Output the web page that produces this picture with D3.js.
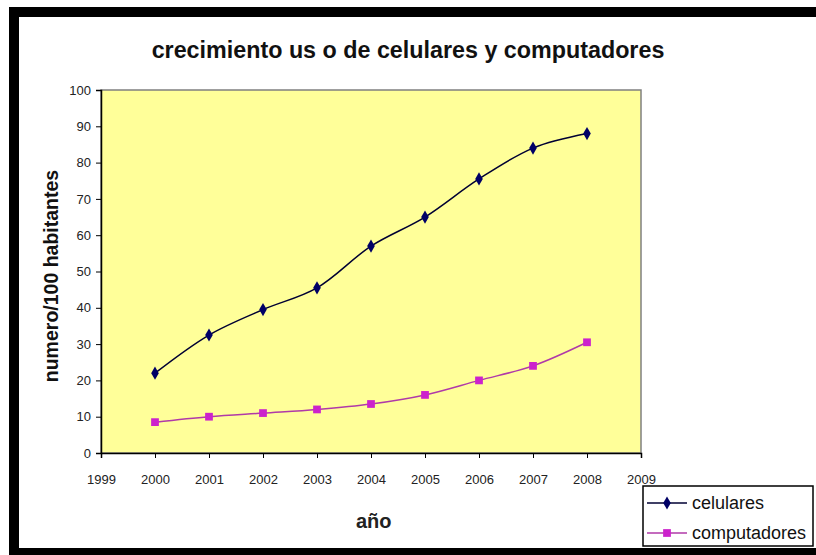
<!DOCTYPE html>
<html>
<head>
<meta charset="utf-8">
<script src="https://cdn.jsdelivr.net/npm/d3@7"></script>
<style>
  html, body { margin: 0; background: #fff; overflow: hidden; }
  svg { display: block; }
  text { font-family: Arial, "Liberation Sans", sans-serif; }
</style>
</head>
<body>
<div id="chart-area"></div>
<script>
// data
var years = [2000, 2001, 2002, 2003, 2004, 2005, 2006, 2007, 2008];
var celulares = [22, 32.5, 39.5, 45.5, 57, 65, 75.5, 84, 88];
var computadores = [8.5, 10, 11, 12, 13.5, 16, 20, 24, 30.5];
var xTicks = [1999, 2000, 2001, 2002, 2003, 2004, 2005, 2006, 2007, 2008, 2009];
var yTicks = [0, 10, 20, 30, 40, 50, 60, 70, 80, 90, 100];

var W = 816, H = 555;
var margin = { left: 101, right: 175, top: 90, bottom: 102 };
var width = W - margin.left - margin.right,
    height = H - margin.top - margin.bottom;

var svg = d3.select("#chart-area")
    .append("svg")
        .attr("width", W)
        .attr("height", H);

// frame: black band top, left and bottom, open on the right
svg.append("rect").attr("x", 9).attr("y", 7).attr("width", W - 9).attr("height", 10).attr("fill", "#000");
svg.append("rect").attr("x", 9).attr("y", 7).attr("width", 10).attr("height", H - 7).attr("fill", "#000");
svg.append("rect").attr("x", 9).attr("y", 548).attr("width", W - 9).attr("height", 7).attr("fill", "#000");

svg.append("text")
    .attr("x", 408)
    .attr("y", 58)
    .attr("text-anchor", "middle")
    .attr("font-size", "23.3px")
    .attr("font-weight", "bold")
    .attr("fill", "#111")
    .text("crecimiento  us o de celulares y computadores");

var g = svg.append("g")
    .attr("transform", "translate(" + margin.left + ", " + margin.top + ")");

var xScale = d3.scaleLinear().domain([1999, 2009]).range([0, width]);
var yScale = d3.scaleLinear().domain([0, 100]).range([height, 0]);

g.append("rect")
    .attr("width", width)
    .attr("height", height)
    .attr("fill", "#ffff99")
    .attr("stroke", "#808080")
    .attr("stroke-width", 1.5);

var xAxisCall = d3.axisBottom(xScale)
    .tickValues(xTicks)
    .tickSize(5)
    .tickFormat(function(d){ return d; });

var xAxis = g.append("g")
    .attr("class", "x axis")
    .attr("transform", "translate(0, " + height + ")")
    .call(xAxisCall);
xAxis.select(".domain").attr("stroke-width", 1.5);
xAxis.selectAll("text")
    .attr("y", 22)
    .attr("font-size", "13px")
    .attr("font-family", "Arial, 'Liberation Sans', sans-serif")
    .attr("fill", "#222");

var yAxisCall = d3.axisLeft(yScale)
    .tickValues(yTicks)
    .tickSize(5)
    .tickFormat(function(d){ return d; });

var yAxis = g.append("g")
    .attr("class", "y axis")
    .call(yAxisCall);
yAxis.select(".domain").attr("stroke-width", 1.5);
yAxis.selectAll("text")
    .attr("x", -10)
    .attr("font-size", "13px")
    .attr("font-family", "Arial, 'Liberation Sans', sans-serif")
    .attr("fill", "#222");

g.append("text")
    .attr("x", xScale(2004.05))
    .attr("y", height + 75)
    .attr("text-anchor", "middle")
    .attr("font-size", "20px")
    .attr("font-weight", "bold")
    .attr("fill", "#222")
    .text("año");

g.append("text")
    .attr("transform", "rotate(-90)")
    .attr("x", -(276 - margin.top))
    .attr("y", -43)
    .attr("text-anchor", "middle")
    .attr("font-size", "19.5px")
    .attr("font-weight", "bold")
    .attr("fill", "#111")
    .text("numero/100 habitantes");

var series = [
    { name: "celulares", values: celulares, line: "#000033", mark: "#000066", shape: d3.symbolDiamond, size: 50 },
    { name: "computadores", values: computadores, line: "#b03aa8", mark: "#cc22cc", shape: d3.symbolSquare, size: 60 }
];

var line = d3.line()
    .curve(d3.curveCatmullRom.alpha(0.5))
    .x(function(d, i) { return xScale(years[i]); })
    .y(function(d) { return yScale(d); });

series.forEach(function(s){
    g.append("path")
        .attr("d", line(s.values))
        .attr("fill", "none")
        .attr("stroke", s.line)
        .attr("stroke-width", 1.5);

    g.selectAll(".pt-" + s.name)
        .data(s.values)
        .enter()
        .append("path")
            .attr("class", "pt-" + s.name)
            .attr("d", d3.symbol().type(s.shape).size(s.size))
            .attr("transform", function(d, i){
                return "translate(" + xScale(years[i]) + "," + yScale(d) + ")";
            })
            .attr("fill", s.mark);
});

// legend
var leg = svg.append("g").attr("transform", "translate(643, 486)");
leg.append("rect")
    .attr("width", 170)
    .attr("height", 60)
    .attr("fill", "#fff")
    .attr("stroke", "#000")
    .attr("stroke-width", 1.5);

series.forEach(function(s, i){
    var y = 17 + i * 30;
    leg.append("line")
        .attr("x1", 4).attr("x2", 44)
        .attr("y1", y).attr("y2", y)
        .attr("stroke", s.line)
        .attr("stroke-width", 1.5);
    leg.append("path")
        .attr("d", d3.symbol().type(s.shape).size(s.size))
        .attr("transform", "translate(24," + y + ")")
        .attr("fill", s.mark);
    leg.append("text")
        .attr("x", 49)
        .attr("y", y + 6)
        .attr("font-size", "18px")
        .attr("fill", "#111")
        .text(s.name);
});
</script>
</body>
</html>
